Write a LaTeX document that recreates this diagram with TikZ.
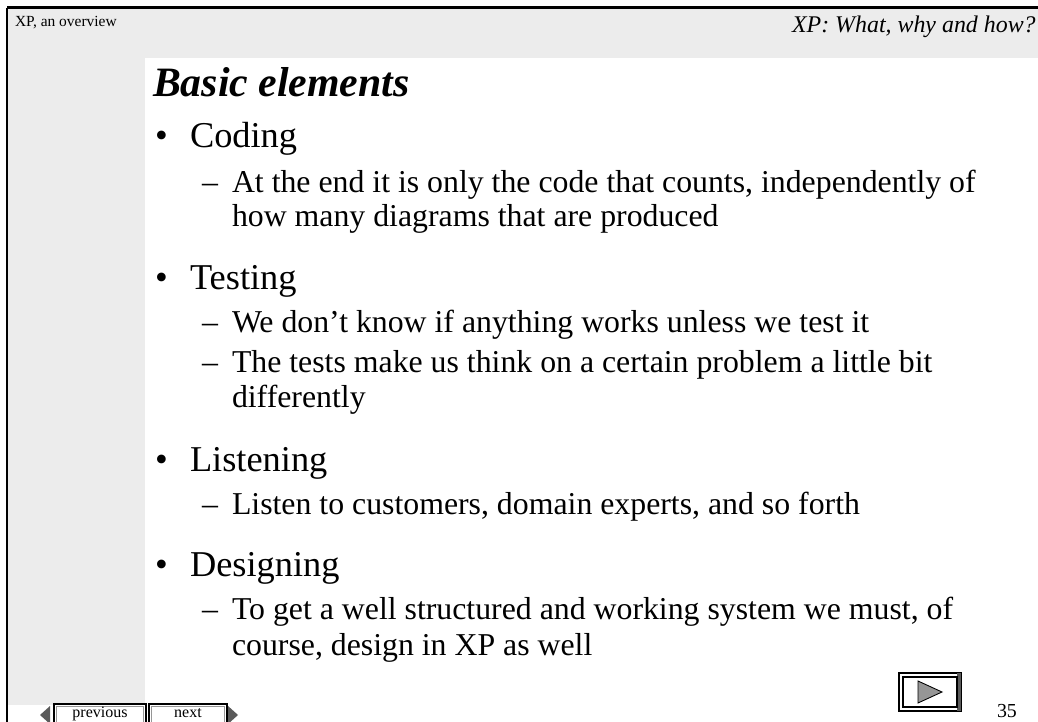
\documentclass[tikz,border=0pt]{standalone}
\usepackage{fontspec}
\setmainfont{Liberation Serif}
\usetikzlibrary{positioning}
\definecolor{panelgray}{RGB}{236,236,236}
\definecolor{navgray}{RGB}{90,90,90}
\definecolor{arrowgray}{RGB}{150,150,150}

\begin{document}
\begin{tikzpicture}[x=0.02cm,y=-0.02cm,
                    txt/.style={anchor=base west,inner sep=0pt,outer sep=0pt},
                    headsmall/.style={txt,font=\fontsize{8.8}{10}\selectfont},
                    headright/.style={anchor=base east,inner sep=0pt,font=\fontsize{13.6}{16}\selectfont\itshape},
                    slidetitle/.style={txt,font=\fontsize{23.8}{28}\selectfont\bfseries\itshape},
                    mainitem/.style={txt,font=\fontsize{20.7}{24}\selectfont},
                    subitem/.style={txt,font=\fontsize{18.1}{19.3}\selectfont},
                    navtext/.style={anchor=base,inner sep=0pt,font=\fontsize{9.1}{11}\selectfont},
                    navbox/.style={draw=black,line width=0.6pt,fill=white}]

	\useasboundingbox (0,0) rectangle (1038,722);

	% background panels and frame
	\fill[panelgray] (8,9) rectangle (1038,58);
	\fill[panelgray] (8,9) rectangle (145,705);
	\draw[line width=1.7pt] (7,8) -- (1040,8);
	\draw[line width=1.7pt] (7,8) -- (7,724);

	% header
	\node[headsmall] (hleft)		at (15,27)		{XP, an overview};
	\node[headright] (hright)		at (1036,33)	{XP: What, why and how?};

	% title
	\node[slidetitle] (title)		at (153,97)		{Basic elements};

	% coding
	\node[mainitem] (b1)			at (155,148)	{•};
	\node[mainitem] (coding)		at (190,148)	{Coding};
	\node[subitem] (d1)			at (202,193)	{–};
	\node[subitem] (s1a)			at (232,193)	{At the end it is only the code that counts, independently of};
	\node[subitem] (s1b)			at (232,227)	{how many diagrams that are produced};

	% testing
	\node[mainitem] (b2)			at (155,290)	{•};
	\node[mainitem] (testing)		at (190,290)	{Testing};
	\node[subitem] (d2)			at (202,333)	{–};
	\node[subitem] (s2)			at (232,333)	{We don’t know if anything works unless we test it};
	\node[subitem] (d3)			at (202,373)	{–};
	\node[subitem] (s3a)			at (232,373)	{The tests make us think on a certain problem a little bit};
	\node[subitem] (s3b)			at (232,408)	{differently};

	% listening
	\node[mainitem] (b3)			at (155,472)	{•};
	\node[mainitem] (listening)	at (190,472)	{Listening};
	\node[subitem] (d4)			at (202,515)	{–};
	\node[subitem] (s4)			at (232,515)	{Listen to customers, domain experts, and so forth};

	% designing
	\node[mainitem] (b4)			at (155,577)	{•};
	\node[mainitem] (designing)	at (190,577)	{Designing};
	\node[subitem] (d5)			at (202,620)	{–};
	\node[subitem] (s5a)			at (232,620)	{To get a well structured and working system we must, of};
	\node[subitem] (s5b)			at (232,655)	{course, design in XP as well};

	% navigation buttons
	\fill[navgray] (40,715) -- (50,706) -- (50,724) -- cycle;
	\draw[navbox] (54,704) rectangle (146,732);
	\draw[arrowgray,line width=0.4pt] (56.5,706.5) rectangle (143.5,732);
	\node[navtext] (prev)			at (100,717)	{previous};
	\draw[navbox] (149,704) rectangle (227,732);
	\draw[arrowgray,line width=0.4pt] (151.5,706.5) rectangle (224.5,732);
	\node[navtext] (next)			at (188,717)	{next};
	\fill[navgray] (238,715) -- (228,706) -- (228,724) -- cycle;

	% play button and page number
	\draw[navbox] (899,673) rectangle (961,711);
	\fill[navgray] (957,673) rectangle (961,711);
	\draw[line width=0.6pt] (903,677) rectangle (957,707);
	\filldraw[fill=arrowgray,draw=black,line width=0.5pt] (918,681) -- (942,692) -- (918,703) -- cycle;
	\node[txt,font=\fontsize{11.3}{13}\selectfont] (page) at (997,717) {35};

\end{tikzpicture}
\end{document}
